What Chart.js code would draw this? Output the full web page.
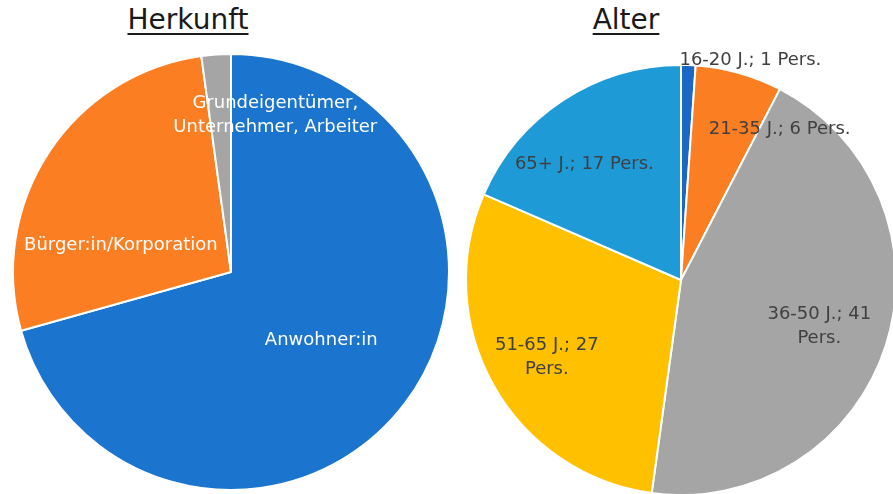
<!DOCTYPE html>
<html>
<head>
<meta charset="utf-8">
<script src="https://cdn.jsdelivr.net/npm/chart.js@4.4.1/dist/chart.umd.min.js"></script>
<style>
    html, body { margin: 0; padding: 0; background: #ffffff; overflow: hidden; }
    #wrap { position: relative; width: 893px; height: 494px; }
    .title {
        position: absolute; top: 4px; width: 200px; text-align: center;
        font-family: "DejaVu Sans", sans-serif; font-size: 28px; line-height: 32px;
        color: #1a1a1a; text-decoration: underline; text-decoration-thickness: 2px;
        text-underline-offset: 4px;
    }
    canvas { position: absolute; top: 0; }
</style>
</head>
<body>
<div id="wrap">
    <div class="title" style="left: 88px;">Herkunft</div>
    <div class="title" style="left: 526px;">Alter</div>
    <canvas id="herkunft_chart" width="462" height="494" style="left: 0px;"></canvas>
    <canvas id="alter_chart" width="442" height="494" style="left: 460px;"></canvas>
</div>
<script>
// Herkunft data (counts, 92 persons)
var herkunftLabels = ['Anwohner:in', 'Bürger:in/Korporation', 'Grundeigentümer, Unternehmer, Arbeiter'];
var herkunftValues = [65, 25, 2];

// Alter data
var alterLabels = ['16-20 J.', '21-35 J.', '36-50 J.', '51-65 J.', '65+ J.'];
var alterValues = [1, 6, 41, 27, 17];

// Colours
var herkunftColors = ['#1b74cd', '#fb7e23', '#a5a5a5'];
var alterColors = ['#1a68c4', '#fb7e23', '#a5a5a5', '#ffc000', '#1e9ad7'];

var labelFont = '18px "DejaVu Sans", sans-serif';

// label placement: fraction of radius along the slice middle, plus a nudge in px
var herkunftLabelPos = [
    { f: 0.52, dx: 0, dy: 0, maxWidth: 300 },
    { f: 0.5, dx: -19, dy: 33, maxWidth: 300 },
    { f: 0.72, dx: 55, dy: 0, maxWidth: 210 }
];
var alterLabelPos = [
    { f: 1.0, dx: 62, dy: -5, maxWidth: 300 },
    { f: 0.7, dx: 58, dy: -6, maxWidth: 300 },
    { f: 0.67, dx: 1, dy: 3, maxWidth: 120 },
    { f: 0.7, dx: -3, dy: 4, maxWidth: 120 },
    { f: 0.65, dx: -20, dy: 1, maxWidth: 300 }
];

// simple greedy word wrap
function wrapText(ctx, text, maxWidth) {
    var words = text.split(' ');
    var lines = [];
    var line = '';
    words.forEach(function (w) {
        var test = line ? line + ' ' + w : w;
        if (line && ctx.measureText(test).width > maxWidth) {
            lines.push(line);
            line = w;
        } else {
            line = test;
        }
    });
    if (line) lines.push(line);
    return lines;
}

// plugin that writes the slice labels
var sliceLabelPlugin = {
    id: 'sliceLabels',
    afterDatasetsDraw: function (chart, args, opts) {
        var ctx = chart.ctx;
        var meta = chart.getDatasetMeta(0);
        ctx.save();
        ctx.font = labelFont;
        ctx.fillStyle = opts.color;
        ctx.textAlign = 'center';
        ctx.textBaseline = 'middle';
        meta.data.forEach(function (arc, i) {
            var p = opts.positions[i];
            var mid = (arc.startAngle + arc.endAngle) / 2;
            var x = arc.x + Math.cos(mid) * arc.outerRadius * p.f + p.dx;
            var y = arc.y + Math.sin(mid) * arc.outerRadius * p.f + p.dy;
            var lines = wrapText(ctx, opts.texts[i], p.maxWidth);
            var lh = 24;
            var y0 = y - (lines.length - 1) * lh / 2;
            lines.forEach(function (l, k) {
                ctx.fillText(l, x, y0 + k * lh);
            });
        });
        ctx.restore();
    }
};

function makePie(id, labels, values, colors, radius, padTop, texts, positions, textColor) {
    var canvas = document.getElementById(id).getContext('2d');
    return new Chart(canvas, {
        type: 'pie',
        data: {
            labels: labels,
            datasets: [{
                data: values,
                backgroundColor: colors,
                borderColor: '#ffffff',
                borderWidth: 2
            }]
        },
        options: {
            responsive: false,
            animation: false,
            radius: radius,
            layout: { padding: { top: padTop } },
            plugins: {
                legend: { display: false },
                tooltip: { enabled: false },
                sliceLabels: { texts: texts, positions: positions, color: textColor }
            }
        },
        plugins: [sliceLabelPlugin]
    });
}

var alterTexts = alterLabels.map(function (cat, i) {
    return cat + '; ' + alterValues[i] + ' Pers.';
});

makePie('herkunft_chart', herkunftLabels, herkunftValues, herkunftColors, 218, 50,
    herkunftLabels, herkunftLabelPos, '#ffffff');
makePie('alter_chart', alterLabels, alterValues, alterColors, 215, 66,
    alterTexts, alterLabelPos, '#404040');
</script>
</body>
</html>
